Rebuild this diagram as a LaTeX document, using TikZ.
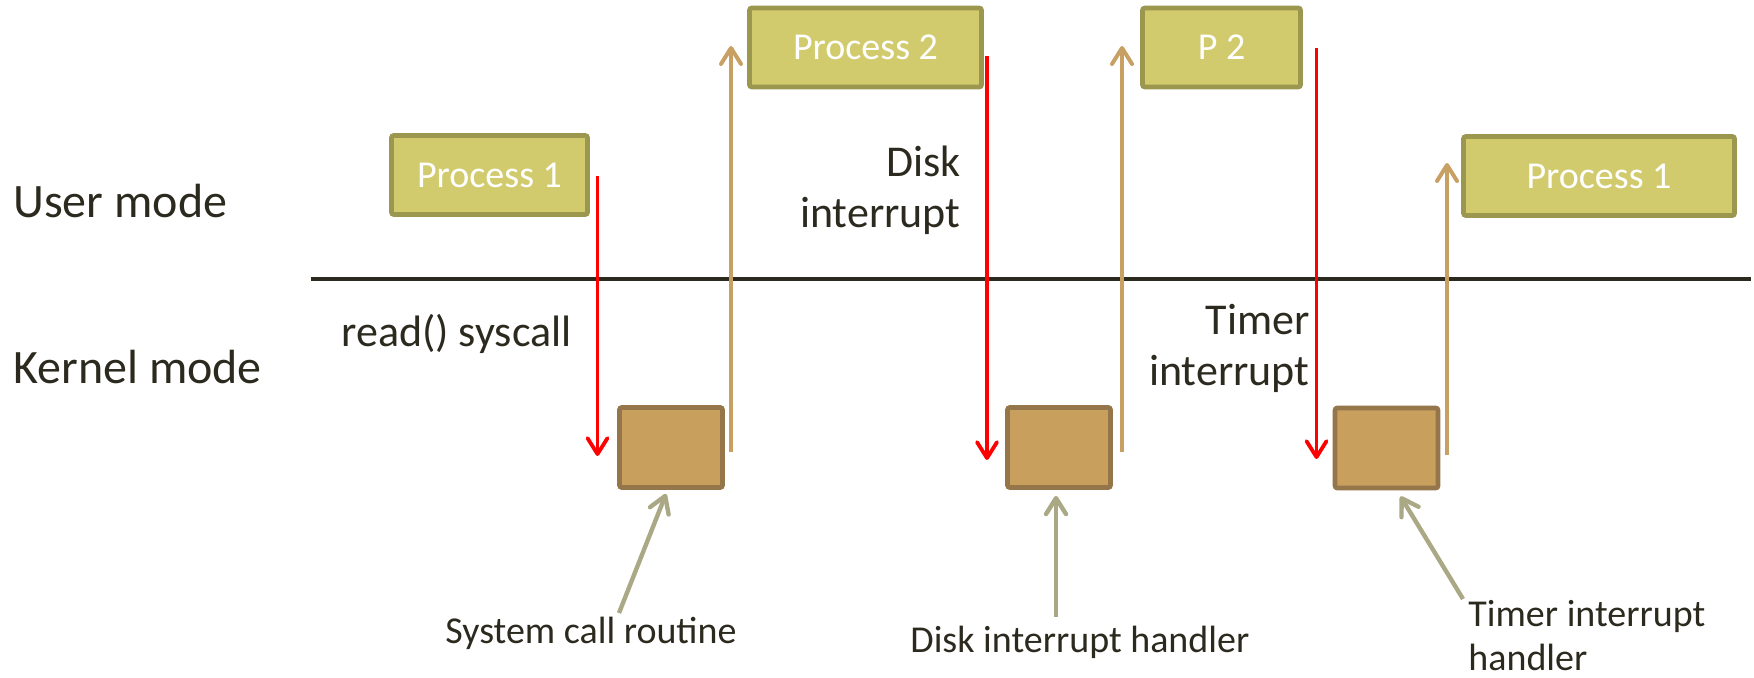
\documentclass[tikz,border=0pt]{standalone}
\usepackage{fontspec}
\setmainfont{Carlito}
\usetikzlibrary{arrows.meta}
\definecolor{txt}{HTML}{2C2A1F}
\definecolor{procfill}{HTML}{D2CB6E}
\definecolor{procline}{HTML}{9C974F}
\definecolor{kernfill}{HTML}{C89F5D}
\definecolor{kernline}{HTML}{95764A}
\definecolor{retcol}{HTML}{C9A063}
\definecolor{ptrcol}{HTML}{ABA985}
\definecolor{trapcol}{HTML}{FF0000}
\tikzset{
  procbox/.style={draw=procline, fill=procfill, line width=2.4pt, rounded corners=1.2pt,
    inner sep=0pt, minimum height=39.5pt, text=white, font=\fontsize{19}{22}\selectfont},
  kernbox/.style={draw=kernline, fill=kernfill, line width=2.4pt, rounded corners=1.2pt,
    inner sep=0pt, minimum width=51.5pt, minimum height=40pt},
  barb/.style={-{Straight Barb[length=8pt,width=10pt,round]}},
  trap/.style={barb, draw=trapcol, line width=1.9pt},
  ret/.style={barb, draw=retcol, line width=2pt},
  ptr/.style={barb, draw=ptrcol, line width=2.2pt},
  modelbl/.style={text=txt, inner sep=0pt, font=\fontsize{24}{28}\selectfont},
  evtlbl/.style={text=txt, inner sep=0pt, font=\fontsize{22}{25.5}\selectfont},
  hlbl/.style={text=txt, inner sep=0pt, font=\fontsize{19}{22}\selectfont},
}
\begin{document}
\begin{tikzpicture}[x=0.5pt, y=-0.5pt]
\useasboundingbox (0,0) rectangle (1754,678);

% mode labels and the user/kernel boundary
\node[modelbl, anchor=base west] (um) at (13,218) {User mode};
\node[modelbl, anchor=base west] (km) at (13,383) {Kernel mode};
\coordinate (bl) at (311,279);
\coordinate (br) at (1751,279);
\draw[txt, line width=2.25pt] (bl) -- (br);

% user-level processes
\node[procbox, minimum width=98pt]   (p1a) at (489.5,175)  {Process 1};
\node[procbox, minimum width=116pt]  (p2a) at (865.5,47.5) {Process 2};
\node[procbox, minimum width=79pt]   (p2b) at (1221.5,47.5) {P 2};
\node[procbox, minimum width=135.5pt] (p1b) at (1599,176)  {Process 1};

% kernel routines
\node[kernbox] (k1) at (671,447.5) {};
\node[kernbox] (k2) at (1059,447.5) {};
\node[kernbox] (k3) at (1386.5,448) {};

% event labels (multi-line nodes sit on the baseline of their last line)
\node[evtlbl, anchor=base west] (ev1) at (341,347) {read() syscall};
\node[evtlbl, align=right, anchor=base east] (ev2) at (961,228) {Disk\\interrupt};
\node[evtlbl, align=right, anchor=base east] (ev3) at (1310,386) {Timer\\interrupt};

% handler labels
\node[hlbl, anchor=base west] (h1) at (445,643) {System call routine};
\node[hlbl, anchor=base west] (h2) at (910,652) {Disk interrupt handler};
\node[hlbl, align=left, anchor=base west] (h3) at (1468,670) {Timer interrupt\\handler};

% transitions into the kernel
\coordinate (t1s) at (597.5,176);  \coordinate (t1e) at (597.5,456);
\coordinate (t2s) at (987,56);     \coordinate (t2e) at (987,460);
\coordinate (t3s) at (1316.5,48);  \coordinate (t3e) at (1316.5,459);
\draw[trap] (t1s) -- (t1e);
\draw[trap] (t2s) -- (t2e);
\draw[trap] (t3s) -- (t3e);

% returns to user mode
\coordinate (r1s) at (731,452);   \coordinate (r1e) at (731,46);
\coordinate (r2s) at (1122,452);  \coordinate (r2e) at (1122,46);
\coordinate (r3s) at (1447,455);  \coordinate (r3e) at (1447,163);
\draw[ret] (r1s) -- (r1e);
\draw[ret] (r2s) -- (r2e);
\draw[ret] (r3s) -- (r3e);

% pointers from the handler labels to their routines
\coordinate (q1) at (619,613);
\coordinate (q2) at (1056,617);
\coordinate (q3) at (1463,599);
\draw[ptr] (q1) -- ([xshift=-2.5pt,yshift=-2pt]k1.south);
\draw[ptr] (q2) -- ([xshift=-1.5pt,yshift=-3pt]k2.south);
\draw[ptr] (q3) -- ([xshift=7pt,yshift=-3pt]k3.south);
\end{tikzpicture}
\end{document}
